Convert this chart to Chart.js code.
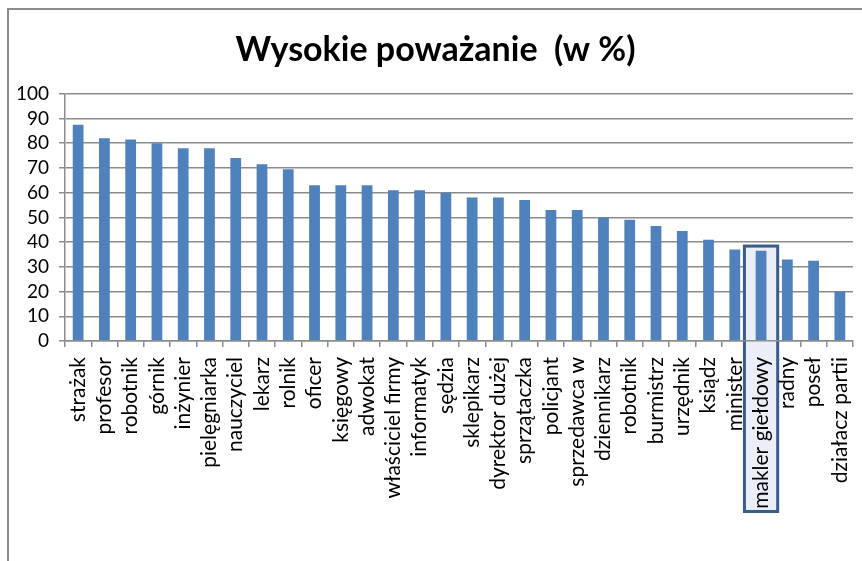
<!DOCTYPE html>
<html>
<head>
<meta charset="utf-8">
<script src="https://cdn.jsdelivr.net/npm/chart.js@4"></script>
<style>
  body { margin: 0; background: #fff; }
  #wrap { position: relative; width: 862px; height: 561px; overflow: hidden; }
  #frame { position: absolute; left: 7px; top: 8px; width: 900px; height: 600px;
           border-top: 2px solid #8c8c8c; border-left: 2px solid #8c8c8c; }
  canvas { position: absolute; left: 0; top: 0; }
</style>
</head>
<body>
<div id="wrap">
  <div id="frame"></div>
  <canvas id="chart" width="862" height="561"></canvas>
</div>
<script>
const professions = [
    'strażak', 'profesor', 'robotnik', 'górnik', 'inżynier', 'pielęgniarka',
    'nauczyciel', 'lekarz', 'rolnik', 'oficer', 'księgowy', 'adwokat',
    'właściciel firmy', 'informatyk', 'sędzia', 'sklepikarz', 'dyrektor dużej',
    'sprzątaczka', 'policjant', 'sprzedawca w', 'dziennikarz', 'robotnik',
    'burmistrz', 'urzędnik', 'ksiądz', 'minister', 'makler giełdowy', 'radny',
    'poseł', 'działacz partii'
];
const esteem = [
    87.5, 82, 81.5, 80, 78, 78,
    74, 71.5, 69.5, 63, 63, 63,
    61, 61, 60, 58, 58,
    57, 53, 53, 50, 49,
    46.5, 44.5, 41, 37, 36.5, 33,
    32.5, 20
];
const yMin = 0;
const yMax = 100;
const yStep = 10;

// highlighted category (box around it)
const highlightIndex = 26;
const highlightTop = 39;

const font = 'Lato';

const highlightBox = {
    id: 'highlightBox',
    beforeDatasetsDraw(chart) {
        const { ctx, scales: { x, y } } = chart;
        const cx = x.getPixelForValue(highlightIndex);
        const half = x.width / professions.length * 0.69;
        const top = y.getPixelForValue(highlightTop);
        const bottom = y.getPixelForValue(yMin) + 172;
        ctx.save();
        ctx.fillStyle = '#eaeff7';
        ctx.fillRect(cx - half, top, half * 2, bottom - top);
        ctx.strokeStyle = '#385d8a';
        ctx.lineWidth = 3;
        ctx.strokeRect(cx - half + 1.5, top + 1.5, half * 2 - 3, bottom - top - 3);
        ctx.restore();
    }
};

new Chart(document.getElementById('chart').getContext('2d'), {
    type: 'bar',
    data: {
        labels: professions,
        datasets: [{
            data: esteem,
            backgroundColor: '#4f81bd',
            borderWidth: 0,
            categoryPercentage: 1,
            barPercentage: 0.41
        }]
    },
    options: {
        responsive: false,
        animation: false,
        devicePixelRatio: 1,
        layout: { padding: { left: 18, right: 9, top: 0, bottom: 0 } },
        plugins: {
            legend: { display: false },
            tooltip: { enabled: false },
            title: {
                display: true,
                text: 'Wysokie poważanie  (w %)',
                color: '#000',
                font: { family: font, size: 34, weight: 'bold' },
                padding: { top: 30, bottom: 23 }
            }
        },
        scales: {
            x: {
                grid: {
                    display: true,
                    drawOnChartArea: false,
                    drawTicks: true,
                    tickLength: 6,
                    color: '#8c8c8c',
                    lineWidth: 1.5,
                    offset: true
                },
                border: { color: '#8c8c8c', width: 1.5, z: 1 },
                ticks: {
                    color: '#000',
                    font: { family: font, size: 21 },
                    minRotation: 90,
                    maxRotation: 90,
                    autoSkip: false,
                    padding: 10,
                    z: 1
                },
                afterFit(scale) {
                    scale.height = 220;
                    scale.paddingLeft = 0;
                    scale.paddingRight = 0;
                }
            },
            y: {
                min: yMin,
                max: yMax,
                ticks: {
                    stepSize: yStep,
                    autoSkip: false,
                    color: '#000',
                    font: { family: font, size: 19 },
                    padding: 10
                },
                grid: {
                    color: '#8c8c8c',
                    lineWidth: 1.5,
                    tickLength: 6
                },
                border: { color: '#8c8c8c', width: 1.5 },
                afterFit(scale) { scale.width = 47; }
            }
        }
    },
    plugins: [highlightBox]
});
</script>
</body>
</html>
